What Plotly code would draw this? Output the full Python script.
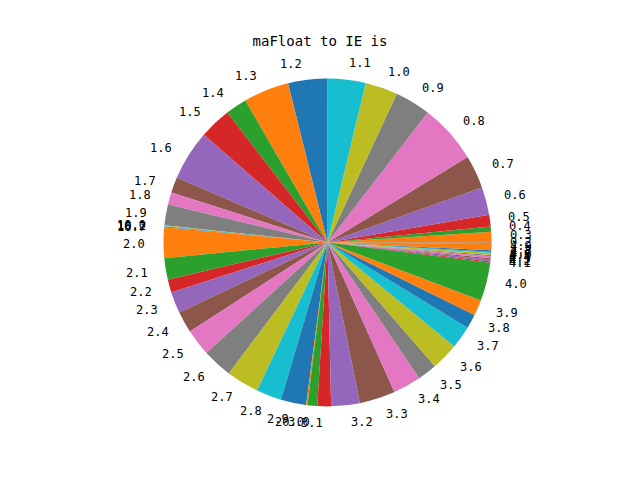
import math
import plotly.graph_objects as go

labels = ["0.2", "0.3", "0.4", "0.5", "0.6", "0.7", "0.8", "0.9", "1.0", "1.1",
          "1.2", "1.3", "1.4", "1.5", "1.6", "1.7", "1.8", "1.9", "10.0", "10.2",
          "16.7", "2.0", "2.1", "2.2", "2.3", "2.4", "2.5", "2.6", "2.7", "2.8",
          "2.9", "20.0", "3.0", "3.1", "3.2", "3.3", "3.4", "3.5", "3.6", "3.7",
          "3.8", "3.9", "4.0", "4.1", "4.2", "4.3", "4.4", "4.5", "4.6", "4.7",
          "4.8", "4.9"]
counts = [2, 16, 8, 18, 43, 51, 91, 55, 50, 59,
          60, 70, 33, 49, 77, 24, 19, 32, 1, 1,
          1, 47, 33, 20, 33, 33, 41, 46, 50, 39,
          39, 2, 15, 21, 44, 55, 43, 30, 42, 35,
          22, 24, 59, 2, 3, 2, 3, 2, 3, 2,
          2, 10]

palette = ["#1f77b4", "#ff7f0e", "#2ca02c", "#d62728", "#9467bd",
           "#8c564b", "#e377c2", "#7f7f7f", "#bcbd22", "#17becf"]
colors = [palette[i % len(palette)] for i in range(len(labels))]

W, H = 640, 480
cx, cy, r = 327.5, 242.4, 164.0   # pie centre and radius in pixels
label_dist = 1.1

fig = go.Figure(go.Pie(
    labels=labels,
    values=counts,
    sort=False,
    direction="counterclockwise",
    rotation=90,
    marker=dict(colors=colors, line=dict(width=0)),
    textinfo="none",
    showlegend=False,
    hoverinfo="label+value",
    domain=dict(x=[(cx - r) / W, (cx + r) / W],
                y=[1 - (cy + r) / H, 1 - (cy - r) / H]),
))

# slice labels placed like matplotlib: at 1.1 radius, at the middle angle of each slice
total = float(sum(counts))
cum = 0.0
annotations = []
for lab, v in zip(labels, counts):
    mid = (cum + v / 2.0) / total * 2 * math.pi
    cum += v
    px = cx + label_dist * r * math.cos(mid)
    py = cy - label_dist * r * math.sin(mid)
    annotations.append(dict(
        x=px / W, y=1 - py / H, xref="paper", yref="paper",
        text=lab, showarrow=False,
        xanchor="left" if math.cos(mid) > 0 else "right",
        yanchor="middle",
        font=dict(family="DejaVu Sans Mono", size=12, color="black"),
    ))

fig.update_layout(
    width=W, height=H,
    paper_bgcolor="white",
    plot_bgcolor="white",
    margin=dict(l=0, r=0, t=0, b=0),
    title=dict(text="maFloat to IE is", x=0.5, xanchor="center",
               y=1 - 41 / H, yanchor="middle", yref="container",
               font=dict(family="DejaVu Sans Mono", size=14, color="black")),
    annotations=annotations,
    showlegend=False,
)

fig.write_html("out.html")
